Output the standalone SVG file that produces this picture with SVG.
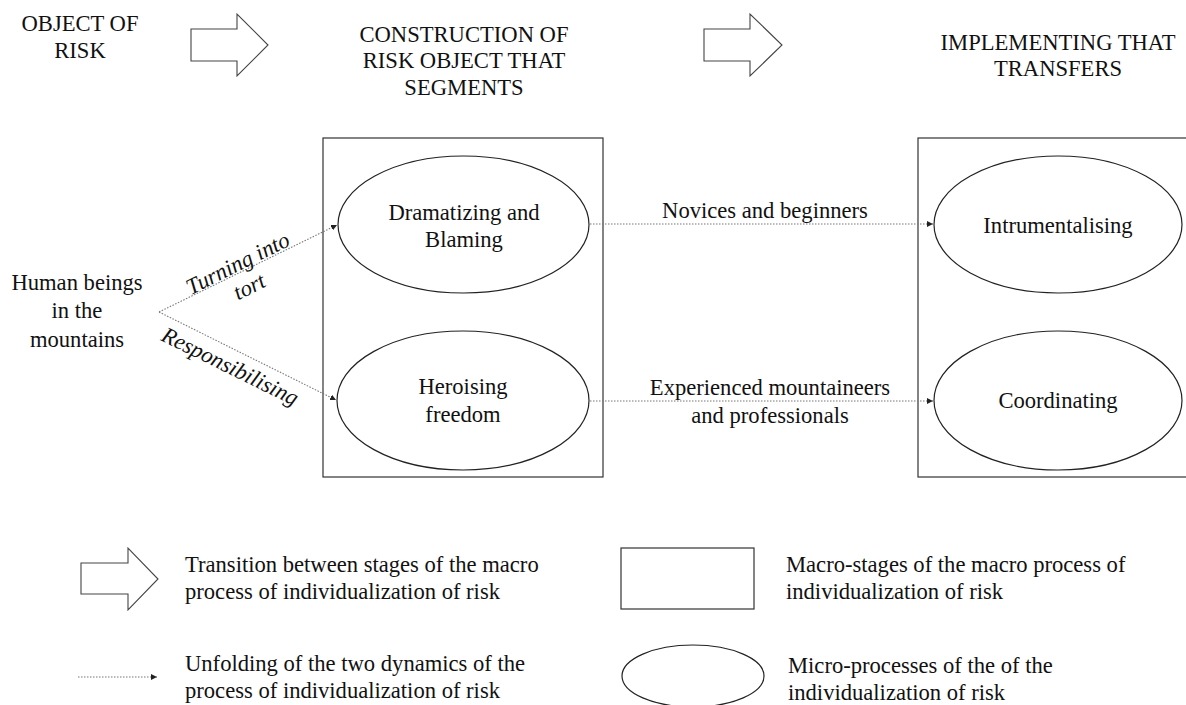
<svg xmlns="http://www.w3.org/2000/svg" width="1186" height="705" viewBox="0 0 1186 705">
<style>
  text { font-family: "Liberation Serif", "Times New Roman", serif; font-size: 22.6px; fill: #111; }
  .c { text-anchor: middle; }
  .it { font-style: italic; }
  .box { fill: none; stroke: #333; stroke-width: 1.2; }
  .ell { fill: #fff; stroke: #222; stroke-width: 1.2; }
  .big { fill: #fff; stroke: #444; stroke-width: 1.1; }
  .dot { fill: none; stroke: #777; stroke-width: 1.1; stroke-dasharray: 1.5 1.5; }
</style>
<defs>
  <marker id="ah" markerUnits="userSpaceOnUse" markerWidth="7" markerHeight="6" refX="6" refY="3" orient="auto">
    <path d="M0,0 L6,3 L0,6 Z" fill="#222"/>
  </marker>
</defs>
<rect width="1186" height="705" fill="#fff"/>

<g id="stage-object">
  <text class="c" x="80" y="31">OBJECT OF</text>
  <text class="c" x="80" y="58">RISK</text>
</g>
<g id="transition-1">
  <path class="big" d="M191,29 H237 V14 L268,45 L237,76 V61 H191 Z"/>
</g>
<g id="stage-construction">
  <text class="c" x="464" y="42">CONSTRUCTION OF</text>
  <text class="c" x="464" y="68">RISK OBJECT THAT</text>
  <text class="c" x="464" y="95">SEGMENTS</text>
</g>
<g id="transition-2">
  <path class="big" d="M704,29 H750 V14 L782,45 L750,76 V61 H704 Z"/>
</g>
<g id="stage-implementing">
  <text class="c" x="1058" y="50">IMPLEMENTING THAT</text>
  <text class="c" x="1058" y="76">TRANSFERS</text>
</g>

<g id="human-beings">
  <text class="c" x="77" y="290">Human beings</text>
  <text class="c" x="77" y="318">in the</text>
  <text class="c" x="77" y="347">mountains</text>
</g>

<g id="box-construction">
  <rect class="box" x="323" y="138" width="280" height="339"/>
</g>
<g id="box-implementing">
  <rect class="box" x="918" y="138" width="290" height="339"/>
</g>

<g id="connectors">
  <line class="dot" x1="159" y1="312" x2="337" y2="225" marker-end="url(#ah)"/>
  <line class="dot" x1="159" y1="312" x2="336" y2="400" marker-end="url(#ah)"/>
  <line class="dot" x1="590" y1="224" x2="933" y2="224" marker-end="url(#ah)"/>
  <line class="dot" x1="590" y1="401" x2="933" y2="401" marker-end="url(#ah)"/>
  <text class="c it" transform="translate(241,270) rotate(-26.6)"><tspan x="0" y="0">Turning into</tspan><tspan x="0" y="26">tort</tspan></text>
  <text class="c it" transform="translate(227,373) rotate(26.3)">Responsibilising</text>
  <text class="c" x="765" y="218">Novices and beginners</text>
  <text class="c" x="770" y="395">Experienced mountaineers</text>
  <text class="c" x="770" y="423">and professionals</text>
</g>

<g id="node-dramatizing">
  <ellipse class="ell" cx="463.5" cy="224.5" rx="125.5" ry="68.5"/>
  <text class="c" x="464" y="220">Dramatizing and</text>
  <text class="c" x="464" y="247">Blaming</text>
</g>
<g id="node-heroising">
  <ellipse class="ell" cx="463" cy="400.5" rx="126" ry="69.5"/>
  <text class="c" x="463" y="394">Heroising</text>
  <text class="c" x="463" y="422">freedom</text>
</g>
<g id="node-instrumentalising">
  <ellipse class="ell" cx="1058" cy="224.5" rx="124" ry="68.5"/>
  <text class="c" x="1058" y="233">Intrumentalising</text>
</g>
<g id="node-coordinating">
  <ellipse class="ell" cx="1058" cy="400.5" rx="124" ry="69.5"/>
  <text class="c" x="1058" y="408">Coordinating</text>
</g>

<g id="legend">
  <path class="big" d="M81,563 H128 V548 L158,579 L128,610 V594 H81 Z"/>
  <text x="185" y="572">Transition between stages of the macro</text>
  <text x="185" y="599">process of individualization of risk</text>
  <rect class="box" x="621" y="548" width="133" height="61"/>
  <text x="786" y="572">Macro-stages of the macro process of</text>
  <text x="786" y="599">individualization of risk</text>
  <line class="dot" x1="78" y1="677" x2="157" y2="677" marker-end="url(#ah)"/>
  <text x="185" y="671">Unfolding of the two dynamics of the</text>
  <text x="185" y="698">process of individualization of risk</text>
  <ellipse class="ell" cx="693" cy="676" rx="71" ry="31"/>
  <text x="788" y="673">Micro-processes of the of the</text>
  <text x="788" y="700">individualization of risk</text>
</g>
</svg>
